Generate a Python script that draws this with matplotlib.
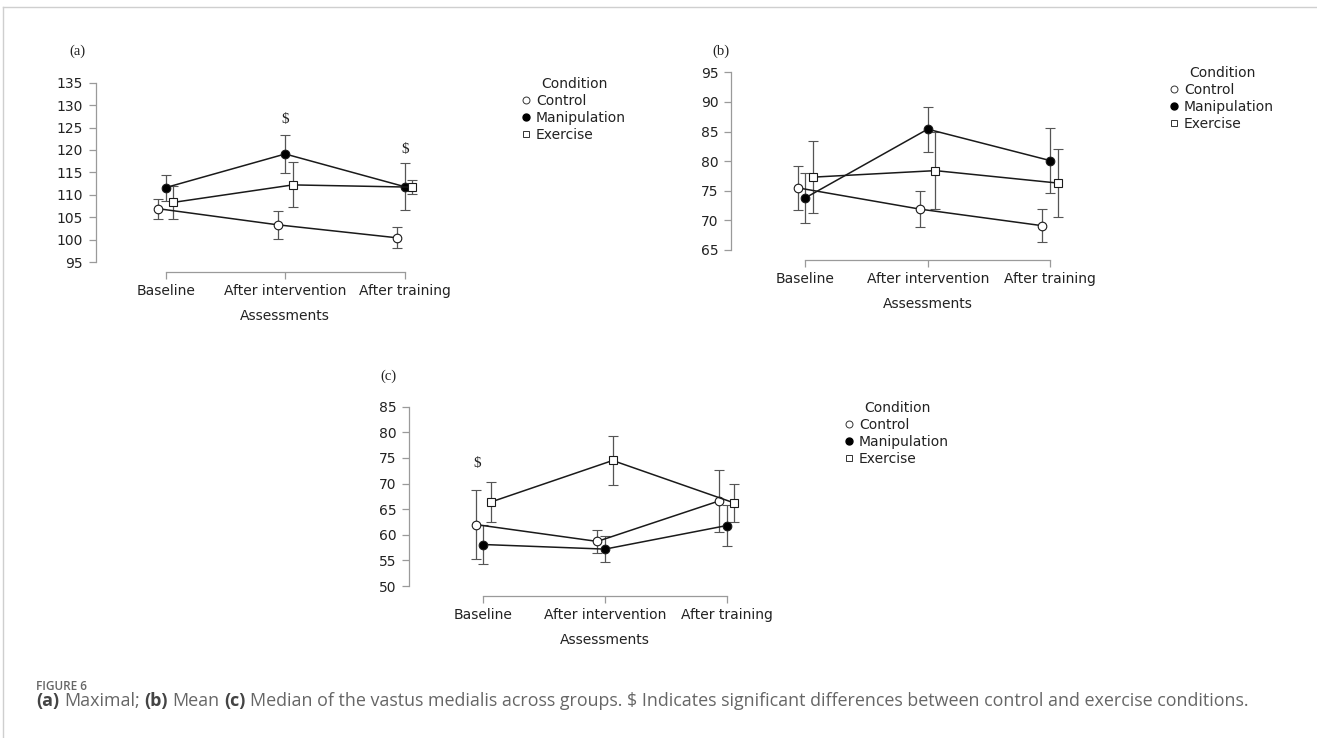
import matplotlib
matplotlib.use("Agg")
import matplotlib.pyplot as plt
from matplotlib.lines import Line2D

W, H = 1317, 738

assessments = ["Baseline", "After intervention", "After training"]
conditions = ["Control", "Manipulation", "Exercise"]

# (a) maximal
max_control = [106.9, 103.3, 100.4]
max_control_err = [2.2, 3.1, 2.3]
max_manip = [111.6, 119.1, 111.8]
max_manip_err = [2.9, 4.2, 5.2]
max_exercise = [108.3, 112.2, 111.7]
max_exercise_err = [3.7, 5.0, 1.5]
max_sig_x = [1, 2]
max_sig_y = [126.8, 120.1]

# (b) mean
mean_control = [75.5, 71.9, 69.1]
mean_control_err = [3.7, 3.1, 2.8]
mean_manip = [73.8, 85.4, 80.1]
mean_manip_err = [4.2, 3.8, 5.5]
mean_exercise = [77.3, 78.4, 76.3]
mean_exercise_err = [6.1, 6.5, 5.7]

# (c) median
med_control = [62.0, 58.7, 66.6]
med_control_err = [6.7, 2.2, 6.1]
med_manip = [58.1, 57.2, 61.8]
med_manip_err = [3.9, 2.6, 4.0]
med_exercise = [66.4, 74.5, 66.2]
med_exercise_err = [3.9, 4.7, 3.7]
med_sig_x = [0]
med_sig_y = [74.0]

TXT = "#222222"
SPINE = "#9a9a9a"

fig = plt.figure(figsize=(W / 100, H / 100), dpi=100)


def fx(px):
  return px / W


def fy(py):
  return 1 - py / H


def make_panel(spine_x, cat0_x, spacing, y_bot, y_top, ylim, yticks):
  # axes placed in pixel coords so categories land where the reference has them
  x_right = cat0_x + 2.3 * spacing
  ax = fig.add_axes([fx(spine_x), fy(y_bot), (x_right - spine_x) / W, (y_bot - y_top) / H])
  x_min = (spine_x - cat0_x) / spacing
  ax.set_xlim(x_min, 2.3)
  ax.set_ylim(*ylim)
  ax.set_yticks(yticks)
  ax.set_xticks(range(len(assessments)))
  ax.set_xticklabels(assessments)
  ax.spines.right.set_visible(False)
  ax.spines.top.set_visible(False)
  ax.spines.left.set_bounds(*ylim)
  ax.spines.bottom.set_bounds(0, 2)
  ax.spines.bottom.set_position(("outward", 7))
  for s in ("left", "bottom"):
    ax.spines[s].set_color(SPINE)
    ax.spines[s].set_linewidth(0.9)
  ax.tick_params(colors=SPINE, labelcolor=TXT, labelsize=10, length=5, width=0.9)
  ax.tick_params(axis="y", pad=4)
  ax.tick_params(axis="x", pad=4)
  ax.set_xlabel("Assessments", fontsize=10, color=TXT, labelpad=8)
  # centre the axis title under the middle category
  ax.xaxis.label.set_x((1 - x_min) / (2.3 - x_min))
  ax.patch.set_alpha(0)
  return ax


def draw_series(ax, spacing, series):
  off = 7.7 / spacing
  styles = [
    dict(marker="o", mfc="white", ms=6.2, dx=-off),
    dict(marker="o", mfc="black", ms=6.2, dx=0.0),
    dict(marker="s", mfc="white", ms=5.6, dx=off),
  ]
  for (vals, errs), st in zip(series, styles):
    xs = [i + st["dx"] for i in range(len(vals))]
    ax.errorbar(xs, vals, yerr=errs, color="#1a1a1a", lw=1.1, ecolor="#555555",
                elinewidth=0.9, capsize=3.5, capthick=0.9, marker=st["marker"],
                mfc=st["mfc"], mec="#1a1a1a", mew=0.8, ms=st["ms"], zorder=3)


def add_legend(ax, left_px, top_px):
  handles = [
    Line2D([], [], ls="none", marker="o", mfc="white", mec="#333333", mew=0.7, ms=5),
    Line2D([], [], ls="none", marker="o", mfc="black", mec="black", ms=5),
    Line2D([], [], ls="none", marker="s", mfc="white", mec="#333333", mew=0.7, ms=4.5),
  ]
  leg = ax.legend(handles, conditions, title="Condition", loc="upper left",
                  bbox_to_anchor=(fx(left_px), fy(top_px)), bbox_transform=fig.transFigure,
                  frameon=False, fontsize=10, title_fontsize=10, borderpad=0,
                  handlelength=0.6, handletextpad=0.4, labelspacing=0.22, borderaxespad=0)
  for t in leg.get_texts():
    t.set_color(TXT)
  leg.get_title().set_color(TXT)


# panel (a)
ax_a = make_panel(95.5, 165.7, 119.5, 262, 82.7, (95, 135), range(95, 136, 5))
draw_series(ax_a, 119.5, [(max_control, max_control_err), (max_manip, max_manip_err),
                          (max_exercise, max_exercise_err)])
for sx, sy in zip(max_sig_x, max_sig_y):
  ax_a.text(sx, sy, "$", ha="center", va="center", fontsize=11, family="Liberation Serif", color=TXT)
add_legend(ax_a, 522, 77)
fig.text(fx(77), fy(51), "(a)", ha="center", va="center", fontsize=10.5, family="Liberation Serif", color=TXT)

# panel (b)
ax_b = make_panel(731, 805.3, 122.4, 250, 72.3, (65, 95), range(65, 96, 5))
draw_series(ax_b, 122.4, [(mean_control, mean_control_err), (mean_manip, mean_manip_err),
                          (mean_exercise, mean_exercise_err)])
add_legend(ax_b, 1170, 66)
fig.text(fx(721), fy(51), "(b)", ha="center", va="center", fontsize=10.5, family="Liberation Serif", color=TXT)

# panel (c)
ax_c = make_panel(409.3, 483.3, 121.7, 586, 406.7, (50, 85), range(50, 86, 5))
draw_series(ax_c, 121.7, [(med_control, med_control_err), (med_manip, med_manip_err),
                          (med_exercise, med_exercise_err)])
for sx, sy in zip(med_sig_x, med_sig_y):
  ax_c.text(sx - 0.05, sy, "$", ha="center", va="center", fontsize=11, family="Liberation Serif", color=TXT)
add_legend(ax_c, 845, 401)
fig.text(fx(388), fy(376), "(c)", ha="center", va="center", fontsize=10.5, family="Liberation Serif", color=TXT)

# frame lines of the page
fig.add_artist(Line2D([fx(3.5), fx(3.5)], [0, fy(7)], color="#cfcfcf", lw=1))
fig.add_artist(Line2D([fx(3.5), 1], [fy(7), fy(7)], color="#cfcfcf", lw=1))

# caption
renderer = fig.canvas.get_renderer()
fig.text(fx(36), fy(686), "FIGURE 6", fontsize=8.5, fontweight="semibold", family="Open Sans",
         color="#666666", va="center")

cap_parts = [
  ("(a)", True), ("Maximal;", False), ("(b)", True), ("Mean", False), ("(c)", True),
  ("Median of the vastus medialis across groups. $ Indicates significant differences between control and exercise conditions.", False),
]


def width_of(s, size, bold):
  t = fig.text(0, 0, s, fontsize=size, family="Open Sans", fontweight="bold" if bold else "normal")
  w = t.get_window_extent(renderer).width
  t.remove()
  return w


size = 10
space = width_of("x x", size, False) - width_of("xx", size, False)
total = sum(width_of(s, size, b) for s, b in cap_parts) + space * (len(cap_parts) - 1)
size = size * (1252 - 36) / total
space = width_of("x x", size, False) - width_of("xx", size, False)
x = 36
for s, b in cap_parts:
  t = fig.text(fx(x), fy(701), s, fontsize=size, family="Open Sans",
               fontweight="bold" if b else "normal", color="#444444" if b else "#666666", va="center")
  x += t.get_window_extent(renderer).width + space

fig.savefig("out.png", dpi=100)
